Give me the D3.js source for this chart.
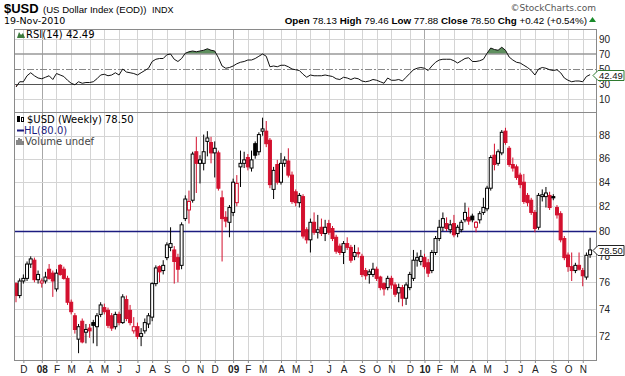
<!DOCTYPE html>
<html>
<head>
<meta charset="utf-8">
<script src="https://cdn.jsdelivr.net/npm/d3@7"></script>
<style>
body { margin: 0; background: #fff; }
svg { display: block; }
text { font-family: "Liberation Sans", Arial, sans-serif; }
.legend { font-family: "DejaVu Sans", Verdana, sans-serif; font-size: 10px; }
</style>
</head>
<body>
<div class="canvas"></div>
<script>
// weekly bars, each dated by the Monday of its week
var firstWeek = new Date(2007, 10, 19);
var prevClose0 = 76.1;

var opens = [75.9,75.0,76.1,76.3,77.4,77.7,76.2,75.95,76.1,77.0,76.7,75.5,77.3,77.0,76.3,74.5,73.5,71.8,73.1,72.3,
  72.6,73.0,72.7,73.6,74.1,73.9,73.5,72.7,73.6,73.0,74.7,73.9,72.4,72.7,72.0,72.4,72.9,73.4,75.9,77.2,
  76.9,77.9,78.7,78.5,77.9,77.3,81.0,81.7,82.5,86.6,85.6,85.6,87.5,87.4,86.5,86.5,82.7,81.1,80.7,81.5,
  82.3,85.3,85.6,86.1,85.2,87.3,86.6,88.4,88.4,87.6,83.4,85.5,84.0,85.6,85.8,84.6,83.2,82.3,82.8,80.1,
  79.3,80.7,79.9,80.3,79.8,80.6,80.2,79.5,78.8,78.3,79.0,78.7,78.0,78.3,78.0,76.9,76.6,76.6,77.0,76.4,
  75.9,75.6,76.3,75.8,75.2,75.6,74.8,75.6,76.3,77.7,77.6,77.9,77.5,76.9,78.3,79.4,80.3,80.6,80.1,80.6,
  79.8,80.1,80.9,81.1,81.2,80.3,80.9,81.5,81.8,83.5,86.3,85.6,86.5,88.4,86.9,85.5,85.3,84.6,84.0,82.9,
  82.5,81.5,80.3,82.8,82.8,82.9,82.8,81.9,81.4,79.4,78.1,77.2,76.9,77.3,76.9,76.4,78.13];
var highs = [76.0,76.3,76.6,77.6,78.0,77.9,76.9,76.3,76.8,77.4,76.9,77.0,77.4,77.2,76.5,74.7,73.7,72.9,73.3,72.9,
  72.9,73.2,73.7,74.5,74.4,74.1,73.7,73.8,73.8,75.1,75.0,74.3,73.4,73.0,72.6,73.3,73.7,76.0,77.3,77.3,
  77.7,79.1,80.3,78.8,78.2,80.7,82.9,83.3,86.6,87.9,86.3,88.1,88.4,87.9,87.5,86.7,83.3,81.6,82.1,84.3,
  84.6,86.7,86.6,86.4,86.7,87.5,88.3,89.6,89.3,87.8,85.3,85.9,86.5,86.2,86.9,84.9,83.4,83.1,83.0,80.3,
  81.0,81.5,81.3,81.0,80.9,80.9,80.4,79.7,79.0,79.2,79.5,78.9,78.9,78.7,78.2,77.1,77.0,77.5,77.2,76.5,
  76.0,76.5,76.5,76.0,75.9,75.8,76.0,76.8,78.5,78.3,78.5,78.2,77.8,78.5,79.6,80.9,81.5,81.1,80.9,81.3,
  80.5,80.9,82.3,81.9,81.4,80.8,81.6,82.7,83.7,86.3,87.3,86.8,88.5,88.7,87.1,86.1,85.5,84.8,84.7,83.1,
  82.7,81.7,83.1,83.4,83.6,83.2,83.0,82.1,81.6,79.6,78.3,78.3,77.5,78.3,77.1,78.3,79.46];
var lows = [74.5,74.8,75.9,76.1,77.1,76.0,75.9,75.6,75.9,76.2,74.9,75.3,76.5,76.2,74.3,73.6,72.2,70.8,71.5,71.5,
  71.9,71.5,71.3,73.4,73.6,72.6,72.4,72.5,72.8,72.9,73.1,72.8,72.2,71.8,71.3,72.2,72.6,73.1,75.7,76.0,
  76.6,77.7,78.4,75.9,76.0,77.0,80.8,80.6,82.3,83.1,83.9,85.0,86.2,85.6,84.4,83.3,77.6,80.3,79.5,81.2,
  82.0,83.6,85.2,85.0,84.9,86.0,86.3,88.0,87.0,83.5,82.6,83.8,83.8,85.3,84.4,82.2,82.0,81.9,79.4,79.0,
  78.3,79.7,79.4,79.6,79.2,79.7,79.2,78.2,78.1,77.4,78.5,77.5,77.7,77.9,76.4,76.2,75.9,76.4,76.1,75.4,
  75.0,75.4,75.5,74.9,74.5,74.2,74.3,75.4,76.1,77.2,77.3,77.0,76.4,76.7,78.1,79.2,80.0,80.0,79.8,79.5,
  79.5,79.9,80.7,80.5,80.7,79.9,80.6,81.3,81.6,83.3,85.0,85.4,86.3,87.2,85.3,84.9,84.2,83.5,82.2,82.0,
  81.3,79.9,80.1,82.4,81.9,81.7,82.5,81.0,79.1,77.7,76.8,76.1,76.7,76.9,75.7,76.2,77.88];
var closes = [75.0,76.1,76.3,77.4,77.8,76.2,76.6,76.1,76.4,76.3,76.1,76.7,76.6,76.3,74.5,73.8,72.5,72.7,71.6,72.5,
  72.4,72.8,73.5,74.3,73.8,72.8,72.6,73.6,73.0,74.9,73.3,73.0,72.7,72.0,72.2,73.0,73.5,75.9,77.1,76.8,
  77.3,78.9,79.0,77.6,77.0,80.5,82.6,82.4,86.4,85.6,85.9,86.6,87.8,86.5,86.9,83.5,81.0,80.8,81.9,84.0,
  83.9,85.6,85.9,85.3,85.9,86.3,88.1,88.6,87.3,83.8,85.0,84.0,85.6,85.9,84.6,82.4,82.3,82.9,79.6,79.3,
  80.7,79.9,80.1,79.8,80.3,79.9,79.4,78.4,78.3,79.0,78.7,77.7,78.3,78.2,76.6,76.5,76.8,77.0,76.3,75.6,
  75.5,76.3,75.8,75.1,75.6,74.8,75.8,76.6,77.7,77.9,78.0,77.2,76.7,78.3,79.4,80.3,81.0,80.2,80.5,79.7,
  80.3,80.7,81.5,80.8,80.9,80.7,81.4,81.9,83.5,86.1,85.5,86.6,88.3,87.4,85.5,85.2,84.4,83.8,82.4,82.3,
  81.5,80.2,82.9,82.95,83.1,81.9,82.7,81.3,79.3,77.9,77.2,76.9,77.3,77.0,76.5,78.08,78.5];

var rsiValues = [26,33,33,41,45,41,38,37,39,41,36,44,42,40,35,31,29,33,31,32,
  32,33,37,42,43,41,42,45,42,50,46,45,44,42,45,48,51,60,63,64,
  64,69,70,63,60,64,71,73,74,73,74,75,77,75,74,65,54,51,52,54,
  57,59,60,62,62,64,67,70,67,53,54,53,55,55,53,50,49,48,43,39,
  42,41,41,41,42,41,40,37,36,39,38,36,38,37,34,33,34,36,35,33,
  31,38,35,35,36,34,39,44,49,51,52,51,48,54,59,62,63,63,63,61,
  58,61,64,65,60,60,61,63,71,78,76,75,79,75,66,62,59,58,55,52,
  48,42,50,52,51,49,48,49,45,38,35,33,34,34,33,40,42.49];

var priceTicks = [72, 74, 76, 78, 80, 82, 84, 86, 88];
var rsiTicks = [10, 30, 50, 70, 90];
var hlLevel = 80;
var monthNames = ["J","F","M","A","M","J","J","A","S","O","N","D"];

var width = 625, height = 376;
var left = 14, right = 596;
var rsiTop = 29, rsiBottom = 112;
var priceTop = 112, priceBottom = 360;
var red = "#d3102e", gridColor = "#d4d4d4";

var svg = d3.select(".canvas").append("svg")
    .attr("width", width)
    .attr("height", height);

var bars = closes.map(function(c, i) {
    return {
        i: i,
        date: d3.timeDay.offset(firstWeek, 7 * i),
        open: opens[i], high: highs[i], low: lows[i], close: c,
        prev: i === 0 ? prevClose0 : closes[i - 1],
        rsi: rsiValues[i]
    };
});

var x = d3.scaleLinear().domain([0, bars.length - 1]).range([16, 590.1]);
var y = d3.scaleLog().domain([70.32, 90.11]).range([priceBottom, priceTop]);
var yr = d3.scaleLinear().domain([0, 100]).range([106.5, 31.5]);

// first bar of each month
var monthStarts = bars.filter(function(d, i) {
    return i > 0 && d.date.getMonth() !== bars[i - 1].date.getMonth();
});

// ---------- header
svg.append("text").attr("x", 4).attr("y", 13).style("font-size", "13px").style("font-weight", "bold").text("$USD");
svg.append("text").attr("x", 43).attr("y", 13).style("font-size", "9.6px").text("(US Dollar Index (EOD))");
svg.append("text").attr("x", 152).attr("y", 13).style("font-size", "9px").text("INDX");
svg.append("text").attr("x", 4).attr("y", 24).attr("class", "legend").style("font-size", "9.5px").text("19-Nov-2010");
svg.append("text").attr("x", 596).attr("y", 11).attr("text-anchor", "end")
    .attr("class", "legend").style("font-size", "9px").style("fill", "#555").text("\u00a9StockCharts.com");

var quote = svg.append("text").attr("x", 587).attr("y", 24).attr("text-anchor", "end").style("font-size", "9.8px");
[["Open", "78.13"], ["High", "79.46"], ["Low", "77.88"], ["Close", "78.50"], ["Chg", "+0.42 (+0.54%)"]].forEach(function(q, k) {
    quote.append("tspan").style("font-weight", "bold").text((k ? " " : "") + q[0] + " ");
    quote.append("tspan").text(q[1]);
});
svg.append("path").attr("d", "M589,22 L596,22 L592.5,17 Z").attr("fill", "#1a8a2a");

// ---------- grids
function vgrid(top, bottom) {
    svg.append("g").selectAll("line").data(monthStarts).enter().append("line")
        .attr("x1", function(d) { return Math.round(x(d.i)) + 0.5; })
        .attr("x2", function(d) { return Math.round(x(d.i)) + 0.5; })
        .attr("y1", top).attr("y2", bottom)
        .attr("stroke", function(d) { return d.date.getMonth() === 0 ? "#a8a8a8" : gridColor; });
}
vgrid(rsiTop, rsiBottom);
vgrid(priceTop, priceBottom);

svg.append("g").selectAll("line").data(priceTicks).enter().append("line")
    .attr("x1", left).attr("x2", right)
    .attr("y1", function(d) { return Math.round(y(d)) + 0.5; })
    .attr("y2", function(d) { return Math.round(y(d)) + 0.5; })
    .attr("stroke", gridColor);

svg.append("g").selectAll("line").data([10, 90]).enter().append("line")
    .attr("x1", left).attr("x2", right)
    .attr("y1", function(d) { return Math.round(yr(d)) + 0.5; })
    .attr("y2", function(d) { return Math.round(yr(d)) + 0.5; })
    .attr("stroke", gridColor);

// ---------- RSI panel
var clip = svg.append("defs");
clip.append("clipPath").attr("id", "above70").append("rect")
    .attr("x", left).attr("y", rsiTop).attr("width", right - left).attr("height", yr(70) - rsiTop);
clip.append("clipPath").attr("id", "below30").append("rect")
    .attr("x", left).attr("y", yr(30)).attr("width", right - left).attr("height", rsiBottom - yr(30));

var rsiArea = function(level) {
    return d3.area().x(function(d) { return x(d.i); }).y0(yr(level)).y1(function(d) { return yr(d.rsi); });
};
svg.append("path").datum(bars).attr("d", rsiArea(70)).attr("fill", "#5e8f5e").attr("clip-path", "url(#above70)");
svg.append("path").datum(bars).attr("d", rsiArea(30)).attr("fill", "#b8433f").attr("clip-path", "url(#below30)");

svg.append("line").attr("x1", left).attr("x2", right).attr("y1", yr(70)).attr("y2", yr(70))
    .attr("stroke", "#999").attr("stroke-width", 1.6);
svg.append("line").attr("x1", left).attr("x2", right).attr("y1", Math.round(yr(50)) + 0.5).attr("y2", Math.round(yr(50)) + 0.5)
    .attr("stroke", "#888").attr("stroke-dasharray", "7,2,2,2");
svg.append("line").attr("x1", left).attr("x2", right).attr("y1", Math.round(yr(30)) + 0.5).attr("y2", Math.round(yr(30)) + 0.5)
    .attr("stroke", "#555");

svg.append("path").datum(bars)
    .attr("d", d3.line().x(function(d) { return x(d.i); }).y(function(d) { return yr(d.rsi); }))
    .attr("fill", "none").attr("stroke", "#111").attr("stroke-width", 1);

// RSI axis
svg.append("g").attr("transform", "translate(" + (right + 3) + ",0)")
    .call(d3.axisRight(yr).tickValues(rsiTicks).tickSize(0).tickPadding(0))
    .call(function(g) { g.select(".domain").remove(); g.selectAll("text").style("font-size", "10px").style("font-family", "Liberation Sans, Arial").attr("fill", "#222"); });

// ---------- price panel
svg.append("line").attr("x1", left).attr("x2", right)
    .attr("y1", Math.round(y(hlLevel)) + 0.5).attr("y2", Math.round(y(hlLevel)) + 0.5)
    .attr("stroke", "#1c1c80").attr("stroke-width", 1.3);

var candles = svg.append("g").selectAll("g").data(bars).enter().append("g");
candles.append("line")
    .attr("x1", function(d) { return x(d.i); }).attr("x2", function(d) { return x(d.i); })
    .attr("y1", function(d) { return y(d.high); }).attr("y2", function(d) { return y(d.low); })
    .attr("stroke", function(d) { return d.close >= d.prev ? "#000" : red; });
candles.append("rect")
    .attr("x", function(d) { return x(d.i) - 1.5; })
    .attr("width", 3)
    .attr("y", function(d) { return y(Math.max(d.open, d.close)); })
    .attr("height", function(d) { return Math.max(1, Math.abs(y(d.open) - y(d.close))); })
    .attr("fill", function(d) {
        if (d.close >= d.open) return "#fff";
        return d.close >= d.prev ? "#000" : red;
    })
    .attr("stroke", function(d) { return d.close >= d.prev ? "#000" : red; })
    .attr("stroke-width", 1);

// price axis
svg.append("g").attr("transform", "translate(" + (right + 3) + ",0)")
    .call(d3.axisRight(y).tickValues(priceTicks).tickFormat(d3.format("d")).tickSize(0).tickPadding(0))
    .call(function(g) { g.select(".domain").remove(); g.selectAll("text").style("font-size", "10px").style("font-family", "Liberation Sans, Arial").attr("fill", "#222"); });

// month axis
svg.append("g").attr("transform", "translate(0," + priceBottom + ")")
    .call(d3.axisBottom(x).tickValues(monthStarts.map(function(d) { return d.i; })).tickSize(3).tickPadding(3)
        .tickFormat(function(i) {
            var dt = bars[i].date;
            return dt.getMonth() === 0 ? d3.timeFormat("%y")(dt) : monthNames[dt.getMonth()];
        }))
    .call(function(g) {
        g.select(".domain").remove();
        g.selectAll("line").attr("stroke", "#888");
        g.selectAll("text").style("font-size", "10px").attr("fill", "#222")
            .style("font-weight", function(i) { return bars[i].date.getMonth() === 0 ? "bold" : "normal"; });
    });

// ---------- frames
svg.append("rect").attr("x", left + 0.5).attr("y", rsiTop + 0.5).attr("width", right - left).attr("height", priceBottom - rsiTop)
    .attr("fill", "none").attr("stroke", "#8a8a8a");
svg.append("line").attr("x1", left).attr("x2", right).attr("y1", priceTop + 0.5).attr("y2", priceTop + 0.5)
    .attr("stroke", "#8a8a8a");

// ---------- legends
svg.append("path").attr("d", "M17,38 L19,32 L21,35 L23,33 L25,38 Z").attr("fill", "#3c7a3c");
svg.append("text").attr("class", "legend").attr("x", 26).attr("y", 38).text("RSI(14) 42.49");

svg.append("rect").attr("x", 17.5).attr("y", 116.5).attr("width", 2).attr("height", 5).attr("fill", "#000").attr("stroke", "#000");
svg.append("rect").attr("x", 21.5).attr("y", 117.5).attr("width", 2).attr("height", 4).attr("fill", "#fff").attr("stroke", "#000");
svg.append("text").attr("class", "legend").attr("x", 27).attr("y", 123).text("$USD (Weekly) 78.50");
svg.append("line").attr("x1", 17).attr("x2", 24).attr("y1", 130.5).attr("y2", 130.5).attr("stroke", "#1c1c80").attr("stroke-width", 2);
svg.append("text").attr("class", "legend").attr("x", 24).attr("y", 134).style("fill", "#1c1c80").text("HL(80.0)");
svg.append("path").attr("d", "M17,145 V140 M19,145 V138 M21,145 V139 M23,145 V141").attr("stroke", "#555").attr("stroke-width", 1.4);
svg.append("text").attr("class", "legend").attr("x", 25).attr("y", 145).style("fill", "#444").text("Volume undef");

// ---------- value tags
function tag(yc, label, color) {
    svg.append("path")
        .attr("d", "M593," + yc + " L598," + (yc - 5) + " L624," + (yc - 5) + " L624," + (yc + 5) + " L598," + (yc + 5) + " Z")
        .attr("fill", "#fff").attr("stroke", color);
    svg.append("text").attr("x", 599).attr("y", yc + 3.5).style("font-size", "9.5px").attr("fill", "#111").text(label);
}
tag(Math.round(y(closes[closes.length - 1])) + 0.5, "78.50", "#222");
tag(Math.round(yr(rsiValues[rsiValues.length - 1])) + 0.5, "42.49", "#2f7a2f");
</script>
</body>
</html>
